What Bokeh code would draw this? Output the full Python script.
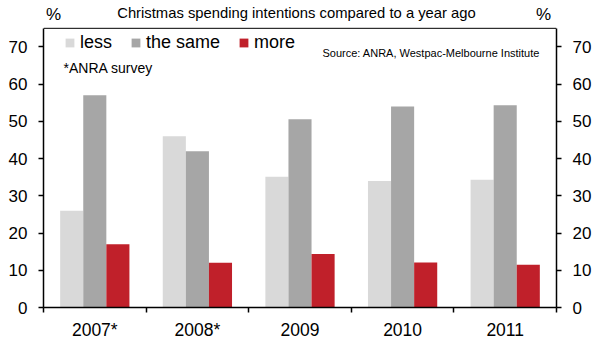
from bokeh.plotting import figure
from bokeh.models import (Range1d, LinearAxis, FixedTicker, Label, Legend, LegendItem,
                          ColumnDataSource, Span)
from bokeh.embed import file_html
from bokeh.resources import INLINE

years = ["2007*", "2008*", "2009", "2010", "2011"]
less = [26.0, 46.0, 35.1, 34.0, 34.3]
same = [57.0, 42.0, 50.6, 54.0, 54.3]
more = [17.0, 12.0, 14.4, 12.1, 11.5]
y_ticks = [0, 10, 20, 30, 40, 50, 60, 70]
y_max = 75

series_names = ["less", "the same", "more"]
colors = ["#d9d9d9", "#a6a6a6", "#c0202a"]

FONT = "Liberation Sans"
n = len(years)
centers = [i + 0.5 for i in range(n)]
bar_w = 0.225

# frame spans the whole canvas height above the x axis; the chart box ends at y_max
frame_h = 309
box_h = 281
top = y_max * frame_h / box_h

p = figure(width=595, height=342, output_backend="svg", toolbar_location=None,
           x_range=Range1d(0, n), y_range=Range1d(0, top),
           min_border_left=43, min_border_right=39, min_border_top=0, min_border_bottom=33,
           y_axis_location=None, x_axis_location=None)
p.xgrid.visible = False
p.ygrid.visible = False
p.outline_line_color = None
p.background_fill_color = "white"
p.border_fill_color = "white"

src = ColumnDataSource(dict(
    c=centers, less=less, same=same, more=more,
    x_less=[c - bar_w for c in centers], x_same=centers, x_more=[c + bar_w for c in centers]))

renderers = []
for key, col in zip(["less", "same", "more"], colors):
    r = p.vbar(x="x_" + key, top=key, bottom=0, width=bar_w, source=src,
               fill_color=col, line_color=None)
    renderers.append(r)

p.add_layout(Span(location=y_max, dimension="width", line_color="black", line_width=1))

def style_y(ax):
    ax.ticker = FixedTicker(ticks=y_ticks)
    ax.bounds = (0, y_max)
    ax.axis_line_color = "black"
    ax.axis_line_width = 1.5
    ax.major_tick_line_color = "black"
    ax.major_tick_line_width = 1.5
    ax.major_tick_out = 5
    ax.major_tick_in = 0
    ax.minor_tick_line_color = None
    ax.major_label_text_font = FONT
    ax.major_label_text_font_size = "17px"
    ax.major_label_text_color = "black"
    ax.major_label_standoff = 11

yl = LinearAxis()
style_y(yl)
p.add_layout(yl, "left")
yr = LinearAxis()
style_y(yr)
p.add_layout(yr, "right")

xa = LinearAxis()
xa.ticker = FixedTicker(ticks=centers, minor_ticks=list(range(n + 1)))
xa.major_label_overrides = {c: y for c, y in zip(centers, years)}
xa.axis_line_color = "black"
xa.axis_line_width = 1.5
xa.major_tick_line_color = None
xa.major_tick_out = 0
xa.major_tick_in = 0
xa.minor_tick_line_color = "black"
xa.minor_tick_line_width = 1.5
xa.minor_tick_out = 5
xa.minor_tick_in = 0
xa.major_label_text_font = FONT
xa.major_label_text_font_size = "17.5px"
xa.major_label_text_color = "black"
xa.major_label_standoff = 7
p.add_layout(xa, "below")

legend = Legend(items=[LegendItem(label=nm, renderers=[r]) for nm, r in zip(series_names, renderers)],
                orientation="horizontal", location=(21, 254),
                glyph_width=11, glyph_height=11, label_standoff=5, spacing=18,
                padding=0, margin=0, label_height=20,
                label_text_font=FONT, label_text_font_size="18px", label_text_color="black",
                border_line_color=None, background_fill_alpha=0)
p.add_layout(legend, "center")

def lab(text, x, y, size, align="left"):
    p.add_layout(Label(x=x, y=y, x_units="screen", y_units="screen", text=text,
                       text_font=FONT, text_font_size=size, text_color="black",
                       text_align=align, text_baseline="middle"))

lab("Christmas spending intentions compared to a year ago", 253, 295, "14.8px", "center")
lab("%", 10, 293, "17px", "center")
lab("%", 500, 293, "17px", "center")
lab("Source: ANRA, Westpac-Melbourne Institute", 279, 255, "11px")
lab("*ANRA survey", 20, 240, "14px")

open("out.html", "w").write(file_html(p, INLINE))
